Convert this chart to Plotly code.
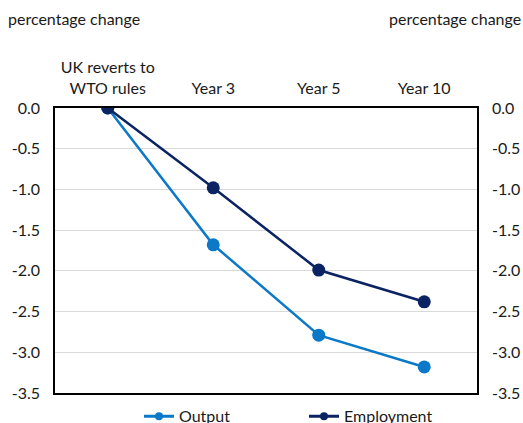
import plotly.graph_objects as go

categories = ["UK reverts to<br>WTO rules", "Year 3", "Year 5", "Year 10"]
output_vals = [0.0, -1.68, -2.79, -3.18]
employment_vals = [0.0, -0.98, -1.99, -2.38]
tick_vals = [0.0, -0.5, -1.0, -1.5, -2.0, -2.5, -3.0, -3.5]
tick_text = ["0.0", "-0.5", "-1.0", "-1.5", "-2.0", "-2.5", "-3.0", "-3.5"]
axis_title = "percentage change"
series_names = ["Output", "Employment"]
series_colors = ["#0b78c8", "#0b2362"]

FONT = "Lato, 'Open Sans', sans-serif"
TXT = "#1a1a1a"

fig = go.Figure()
for name, vals, col in zip(series_names, [output_vals, employment_vals], series_colors):
    fig.add_trace(go.Scatter(
        x=categories, y=vals, name=name, mode="lines+markers",
        line=dict(color=col, width=2.5), marker=dict(size=13, color=col),
        showlegend=False,
    ))
# legend-only entries with smaller markers, as in the reference legend
for name, col in zip(series_names, series_colors):
    fig.add_trace(go.Scatter(
        x=[None], y=[None], name=name, mode="lines+markers",
        line=dict(color=col, width=3), marker=dict(size=8, color=col),
        showlegend=True,
    ))
# invisible trace to show the right-hand axis
fig.add_trace(go.Scatter(
    x=categories, y=employment_vals, yaxis="y2", mode="lines",
    line=dict(width=0), opacity=0, showlegend=False, hoverinfo="skip",
))

fig.update_layout(
    width=523, height=423,
    margin=dict(l=55, r=46, t=108, b=30, autoexpand=False),
    paper_bgcolor="white", plot_bgcolor="white",
    font=dict(family=FONT, size=16, color=TXT),
    xaxis=dict(
        type="category", side="top", range=[-0.5, 3.5],
        showline=True, linecolor="black", linewidth=1.5, mirror=True,
        showgrid=False, ticks="", ticklabelstandoff=6,
        tickfont=dict(size=16, color=TXT),
    ),
    yaxis=dict(
        range=[-3.5, 0.0], tickvals=tick_vals, ticktext=tick_text,
        showline=True, linecolor="black", linewidth=1.5, mirror=True,
        showgrid=True, gridcolor="#d9d9d9", gridwidth=1,
        zeroline=False, ticks="", ticklabelstandoff=10,
        tickfont=dict(size=16, color=TXT),
    ),
    yaxis2=dict(
        range=[-3.5, 0.0], tickvals=tick_vals, ticktext=tick_text,
        overlaying="y", side="right", showgrid=False, zeroline=False,
        showline=False, ticks="", ticklabelstandoff=14,
        tickfont=dict(size=16, color=TXT),
    ),
    legend=dict(
        orientation="h", x=(139 - 55) / 422, xanchor="left", y=-0.022, yanchor="top",
        font=dict(size=16, color=TXT), entrywidth=120,
        traceorder="normal", tracegroupgap=0,
    ),
    showlegend=True,
    annotations=[
        dict(text=axis_title, xref="paper", yref="paper", x=-49 / 422, xanchor="left",
             y=1 + (108 - 19) / 285, yanchor="middle", showarrow=False,
             font=dict(size=16, color=TXT)),
        dict(text=axis_title, xref="paper", yref="paper", x=1 + 46 / 422, xanchor="right",
             y=1 + (108 - 19) / 285, yanchor="middle", showarrow=False,
             font=dict(size=16, color=TXT)),
    ],
)

fig.write_html(
    "out.html",
    config={"displayModeBar": False},
    post_script="document.body.style.margin='0';document.body.style.overflow='hidden';",
)
